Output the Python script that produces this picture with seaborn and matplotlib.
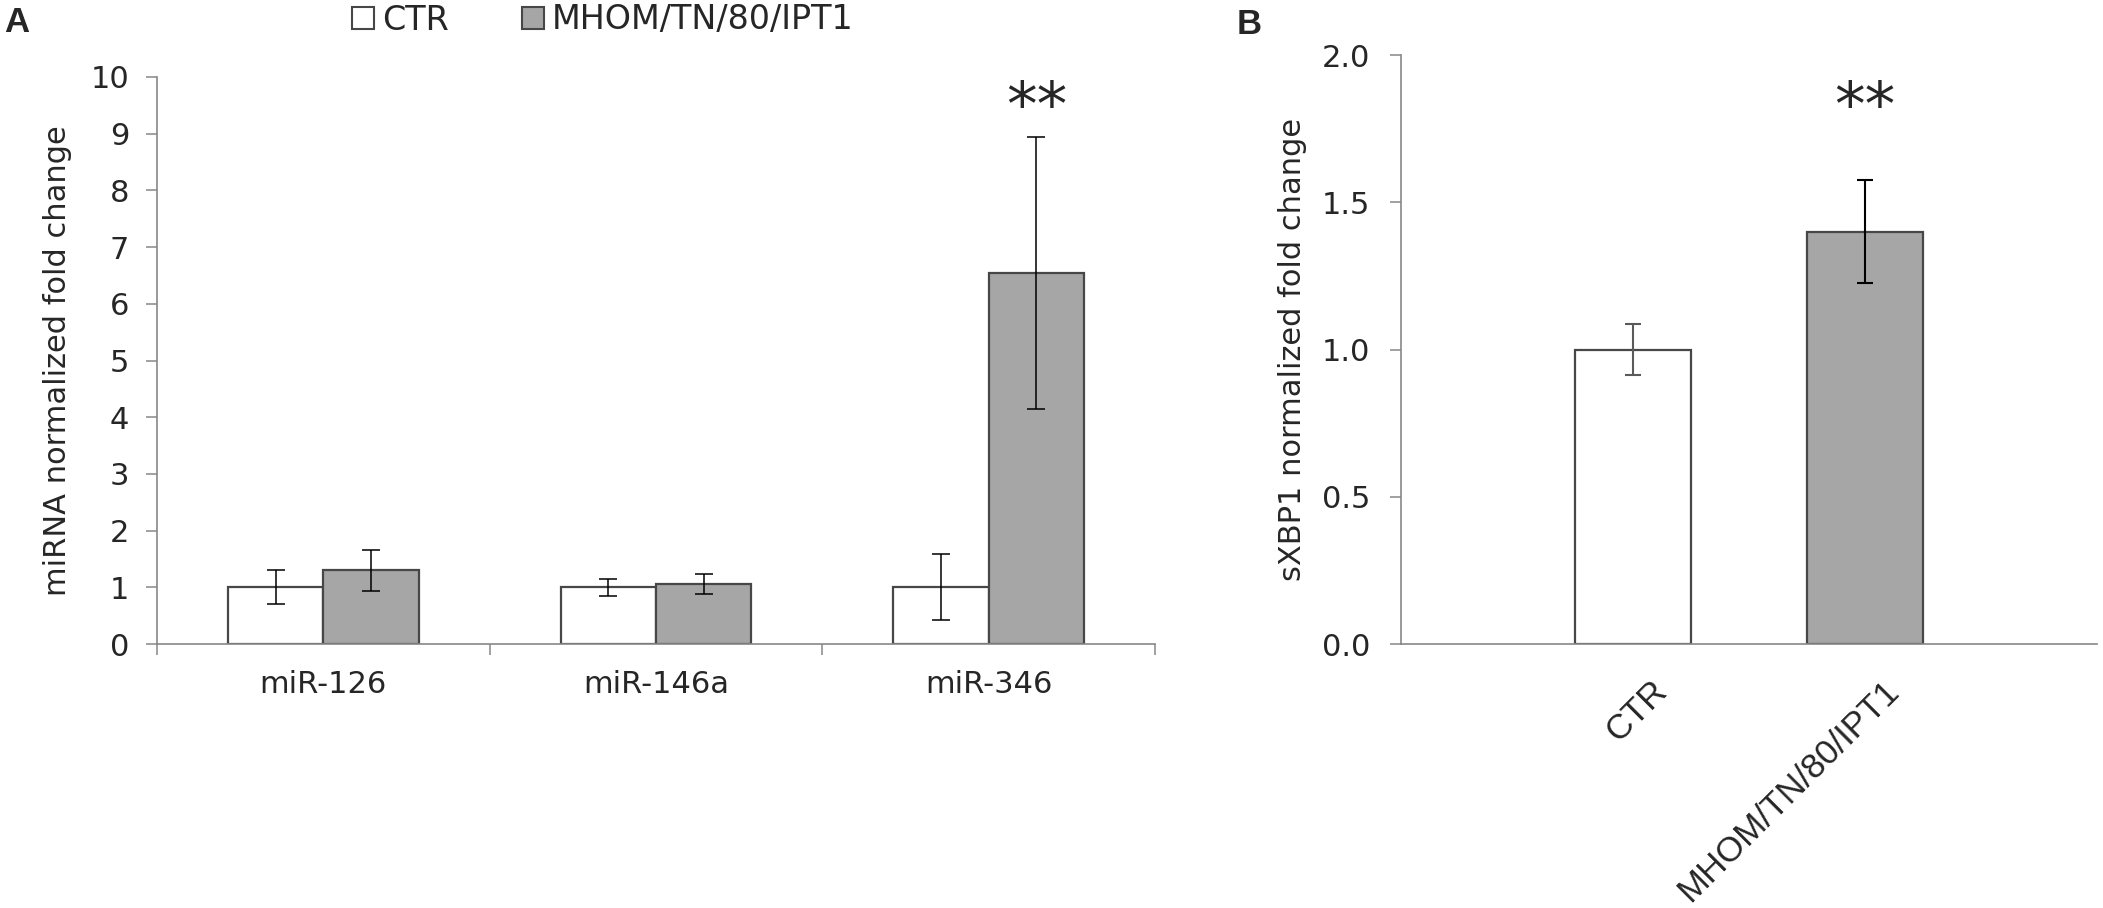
import matplotlib
matplotlib.use("Agg")
import matplotlib.pyplot as plt
import matplotlib.transforms as mtransforms
from matplotlib.patches import Patch
import seaborn as sns
import pandas as pd

# panel A: miRNA qPCR
mirnas = ["miR-126", "miR-146a", "miR-346"]
groups = ["CTR", "MHOM/TN/80/IPT1"]
ctr_mean = [1.0, 1.0, 1.0]
ctr_err = [0.30, 0.15, 0.58]
inf_mean = [1.30, 1.06, 6.55]
inf_err = [0.36, 0.17, 2.40]

# panel B: sXBP1
sxbp1_mean = [1.0, 1.40]
sxbp1_err = [0.088, 0.175]

colors = {"CTR": "white", "MHOM/TN/80/IPT1": "#a6a6a6"}
EDGE = "#474747"
AXC = "#878787"

W, H = 2103, 908

sns.set_style("ticks")
plt.rcParams["font.family"] = ["DejaVu Sans"]
plt.rcParams["axes.edgecolor"] = AXC

fig = plt.figure(figsize=(W / 100, H / 100), dpi=100)
ax_a = fig.add_axes([157 / W, (H - 644) / H, 998 / W, (644 - 77) / H])
ax_b = fig.add_axes([1401 / W, (H - 644) / H, 696 / W, (644 - 55) / H])


def add_errorbars(ax, df, ecolors, lw, cap):
    # error bars on top of the bars that seaborn placed
    for cont, level in zip(ax.containers, groups):
        sub = df[df["group"] == level]
        xs = [b.get_x() + b.get_width() / 2 for b in cont]
        hs = [b.get_height() for b in cont]
        ax.errorbar(xs, hs, yerr=list(sub["err"]), fmt="none", ecolor=ecolors[level],
                    elinewidth=lw, capsize=cap, capthick=lw, zorder=5)


def style_axis(ax):
    for side in ["top", "right"]:
        ax.spines[side].set_visible(False)
    for side in ["left", "bottom"]:
        ax.spines[side].set_color(AXC)
        ax.spines[side].set_linewidth(1.2)


# ---- A ----
df_a = pd.DataFrame({
    "mirna": mirnas * 2,
    "group": [groups[0]] * 3 + [groups[1]] * 3,
    "value": ctr_mean + inf_mean,
    "err": ctr_err + inf_err,
})
sns.barplot(data=df_a, x="mirna", y="value", hue="group", hue_order=groups,
            palette=colors, width=0.574, edgecolor=EDGE, linewidth=1.6,
            errorbar=None, legend=False, ax=ax_a)
add_errorbars(ax_a, df_a, {"CTR": "black", "MHOM/TN/80/IPT1": "black"}, 1.1, 6.5)
style_axis(ax_a)
ax_a.set_xlim(-0.5, 2.5)
ax_a.set_ylim(0, 10)
ax_a.set_yticks(range(0, 11))
ax_a.set_xticks([-0.5, 0.5, 1.5, 2.5], minor=True)
ax_a.tick_params(axis="x", which="major", length=0, pad=19, labelsize=22)
ax_a.tick_params(axis="x", which="minor", length=8, width=1.1, color=AXC, direction="out")
ax_a.tick_params(axis="y", length=8, width=1.1, color=AXC, direction="out", pad=12, labelsize=22)
ax_a.set_xlabel("")
ax_a.set_ylabel("miRNA normalized fold change", fontsize=22)
ax_a.yaxis.set_label_coords(-0.085, 0.5)

# ---- B ----
df_b = pd.DataFrame({"group": groups, "value": sxbp1_mean, "err": sxbp1_err})
sns.barplot(data=df_b, x="group", y="value", hue="group", hue_order=groups,
            palette=colors, width=0.5, edgecolor=EDGE, linewidth=1.6,
            errorbar=None, legend=False, ax=ax_b)
add_errorbars(ax_b, df_b, {"CTR": "#5a5a5a", "MHOM/TN/80/IPT1": "black"}, 1.5, 6)
style_axis(ax_b)
ax_b.set_xlim(-1, 2)
ax_b.set_ylim(0, 2)
ax_b.set_yticks([0, 0.5, 1.0, 1.5, 2.0])
ax_b.set_yticklabels(["0.0", "0.5", "1.0", "1.5", "2.0"])
ax_b.tick_params(axis="y", length=8, width=1.1, color=AXC, direction="out", pad=14, labelsize=22)
ax_b.set_xticks([0, 1])
ax_b.set_xticklabels(groups, rotation=45, ha="right", va="top", rotation_mode="anchor",
                     fontfamily=["Liberation Sans", "DejaVu Sans"], fontsize=25)
ax_b.tick_params(axis="x", length=0, pad=22)
shift = mtransforms.ScaledTranslation(17 / 100, 0, fig.dpi_scale_trans)
for lab in ax_b.get_xticklabels():
    lab.set_transform(lab.get_transform() + shift)
ax_b.set_xlabel("")
ax_b.set_ylabel("sXBP1 normalized fold change", fontsize=22)
ax_b.yaxis.set_label_coords(-0.135, 0.5)

# significance marks over the infected bars
for ax in [ax_a, ax_b]:
    bar = ax.containers[1][-1]
    xc = bar.get_x() + bar.get_width() / 2
    trans = mtransforms.blended_transform_factory(ax.transData, fig.transFigure)
    ax.text(xc, 0.862, "**", transform=trans, ha="center", va="baseline", fontsize=44)

# panel letters
fig.text(4 / W, 1 - 6 / H, "A", ha="left", va="top", fontsize=25, fontweight="bold",
         family=["Liberation Sans", "DejaVu Sans"])
fig.text(1237 / W, 1 - 8 / H, "B", ha="left", va="top", fontsize=25, fontweight="bold",
         family=["Liberation Sans", "DejaVu Sans"])

# legend for panel A
handles = [Patch(facecolor=colors[g], edgecolor=EDGE, linewidth=1.5) for g in groups]
fig.legend(handles, groups, loc="center left", bbox_to_anchor=(352 / W, 1 - 20 / H),
           ncol=2, frameon=False, fontsize=24, handlelength=0.65, handleheight=0.65,
           handletextpad=0.25, columnspacing=2.2, borderpad=0, borderaxespad=0)

fig.savefig("out.png", dpi=100, facecolor="white")
